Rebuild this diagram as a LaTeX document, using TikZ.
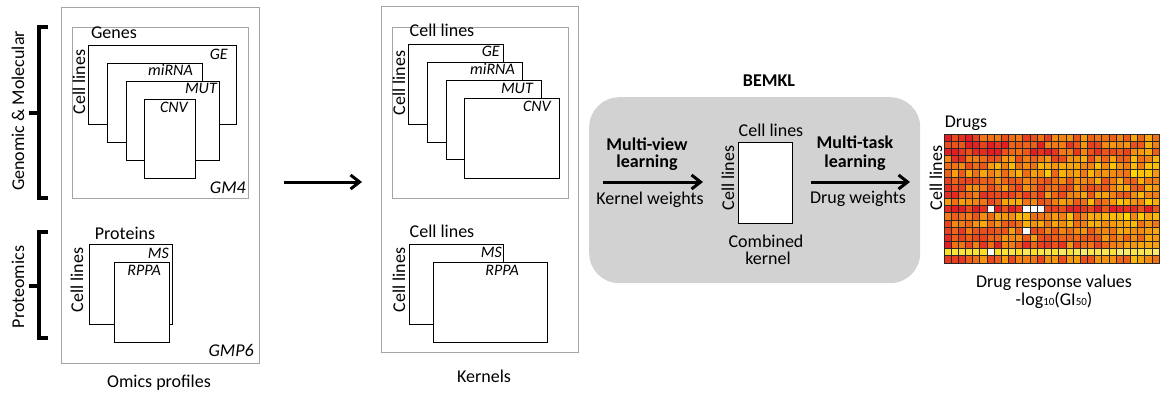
\documentclass[tikz,border=0pt]{standalone}
\usepackage{fontspec}
\setmainfont{Carlito}
\usetikzlibrary{arrows.meta}
\definecolor{panelgray}{RGB}{165,165,165}
\definecolor{bemklgray}{RGB}{210,210,210}
\definecolor{heatred}{RGB}{228,28,36}
\definecolor{heatyel}{RGB}{255,216,0}
\definecolor{heatpale}{RGB}{246,240,140}
\definecolor{gridgray}{RGB}{40,40,40}
\begin{document}
\begin{tikzpicture}[x=1pt,y=-1pt,
  every node/.style={font=\fontsize{18}{20}\selectfont,inner sep=0pt},
  txt/.style={anchor=base},
  bold txt/.style={anchor=base,font=\fontsize{18}{20}\selectfont\bfseries},
  vtxt/.style={rotate=90},
  tag/.style={anchor=base east,font=\fontsize{16}{18}\selectfont\itshape},
  big tag/.style={anchor=base east,font=\fontsize{18}{20}\selectfont\itshape},
  panel/.style={draw=panelgray,line width=1.3pt,anchor=north west},
  sheet/.style={draw,fill=white,line width=0.9pt,anchor=north west},
  brace/.style={line width=3.5pt},
  flow/.style={line width=3pt,-{Straight Barb[length=9pt,width=14pt]}},
  cell/.style={draw=gridgray,line width=0.8pt}]
\useasboundingbox (0,0) rectangle (1160,396);
\coordinate (mid) at (0,182);

% omics profiles
\node[panel,minimum width=198,minimum height=356] (omics) at (61,7) {};
\node[panel,minimum width=176,minimum height=171] (gm4) at (72,27) {};
\node[sheet,minimum width=148,minimum height=79] (ge1) at (88,45) {};
\node[sheet,minimum width=95,minimum height=79] (mirna1) at (107,63) {};
\node[sheet,minimum width=93,minimum height=79] (mut1) at (126,81) {};
\node[sheet,minimum width=51,minimum height=79] (cnv1) at (144,99) {};
\node[sheet,minimum width=83,minimum height=80] (ms1) at (89,244) {};
\node[sheet,minimum width=55,minimum height=80] (rppa1) at (114,262) {};
\node[txt] (genes) at (114,39) {Genes};
\node[tag] (ge1t) at (228,60) {GE};
\node[tag] (mirna1t) at (193,76) {miRNA};
\node[tag] (mut1t) at (217,94) {MUT};
\node[tag] (cnv1t) at (188,112) {CNV};
\node[big tag] (gm4t) at (246,193) {GM4};
\node[vtxt] (cl1) at (79,82) {Cell lines};
\node[txt] (proteins) at (125,239) {Proteins};
\node[tag] (ms1t) at (169,258) {MS};
\node[tag] (rppa1t) at (161,275) {RPPA};
\node[big tag] (gmp6t) at (254,356) {GMP6};
\node[vtxt] (cl2) at (77,280) {Cell lines};
\node[txt] (omicst) at (159,387) {Omics profiles};

\node[vtxt] (genomic) at (18,111) {Genomic \& Molecular};
\node[vtxt] (proteomic) at (18,287) {Proteomics};
\draw[brace] (48,27) -- (39,27) -- (39,198) -- (48,198) (39,113) -- (29,113);
\draw[brace] (48,232) -- (39,232) -- (39,338) -- (48,338) (39,286) -- (29,286);

% kernels
\node[panel,minimum width=197,minimum height=346] (kernels) at (381,6) {};
\node[panel,minimum width=176,minimum height=171] (kgenes) at (392,27) {};
\node[sheet,minimum width=95,minimum height=80] (ge2) at (408,44) {};
\node[sheet,minimum width=95,minimum height=80] (mirna2) at (427,62) {};
\node[sheet,minimum width=95,minimum height=79] (mut2) at (446,80) {};
\node[sheet,minimum width=95,minimum height=80] (cnv2) at (464,98) {};
\node[sheet,minimum width=94,minimum height=80] (ms2) at (409,244) {};
\node[sheet,minimum width=114,minimum height=80] (rppa2) at (433,262) {};
\node[txt] (cl3) at (442,37) {Cell lines};
\node[tag] (ge2t) at (500,57) {GE};
\node[tag] (mirna2t) at (515,75) {miRNA};
\node[tag] (mut2t) at (533,93) {MUT};
\node[tag] (cnv2t) at (551,111) {CNV};
\node[vtxt] (cl4) at (399,83) {Cell lines};
\node[txt] (cl5) at (442,237) {Cell lines};
\node[tag] (ms2t) at (502,257) {MS};
\node[tag] (rppa2t) at (519,275) {RPPA};
\node[vtxt] (cl6) at (399,280) {Cell lines};
\node[txt] (kernelst) at (484,382) {Kernels};

% BEMKL
\node[fill=bemklgray,rounded corners=30pt,minimum width=331,minimum height=186,anchor=north west] (bemkl) at (589,97) {};
\node[bold txt] (bemklt) at (769,87) {BEMKL};
\node[sheet,minimum width=54,minimum height=81] (comb) at (738,142) {};
\node[txt] (cl7) at (771,136) {Cell lines};
\node[vtxt] (cl8) at (728,178) {Cell lines};
\node[txt] (combt) at (766,247) {Combined};
\node[txt] (kernelt) at (768,264) {kernel};
\node[bold txt] (mv1) at (647,150) {Multi-view};
\node[bold txt] (mv2) at (647,167) {learning};
\node[txt] (kw) at (650,204) {Kernel weights};
\node[bold txt] (mt1) at (855,148) {Multi-task};
\node[bold txt] (mt2) at (855,167) {learning};
\node[txt] (dw) at (858,203) {Drug weights};

% drug response
\node[minimum width=216,minimum height=129,anchor=north west] (heat) at (944,134) {};
\node[txt] (drugs) at (966,128) {Drugs};
\node[vtxt] (cl9) at (936,178) {Cell lines};
\node[txt] (drv) at (1054,287) {Drug response values};
\node[txt] (gi) at (1054,305) {-log{\fontsize{11}{12}\selectfont 10}(GI{\fontsize{11}{12}\selectfont 50})};
\begin{scope}
\clip (944,130) rectangle (1160,270);
\pgfmathsetseed{17}
\foreach \b/\s/\hi/\lo [count=\r from 0] in {85/1.6/heatred/heatyel,100/1.9/heatred/heatyel,100/1.8/heatred/heatyel,
    70/1.2/heatred/heatyel,50/0.9/heatred/heatyel,48/0.9/heatred/heatyel,62/0.9/heatred/heatyel,68/1.0/heatred/heatyel,
    72/1.1/heatred/heatyel,58/0.9/heatred/heatyel,100/0.2/heatred/heatyel,48/0.8/heatred/heatyel,55/0.9/heatred/heatyel,
    66/1.1/heatred/heatyel,72/1.1/heatred/heatyel,78/1.1/heatred/heatyel,60/0.8/heatyel/heatpale,66/1.0/heatred/heatyel}
  \foreach \c in {0,...,30}{
    \pgfmathsetmacro\p{int(max(0,min(100,\b-\s*\c+56*rnd-28)))}
    \filldraw[cell,fill=\hi!\p!\lo] (944+7.17*\c,134+7.17*\r) rectangle ++(7.17,7.17);
  }
\foreach \c/\r in {6/10,11/10,12/10,13/10,11/13,6/16}
  \filldraw[cell,fill=white] (944+7.17*\c,134+7.17*\r) rectangle ++(7.17,7.17);
\end{scope}

\draw[flow,shorten <=24pt,shorten >=19pt] (omics.east |- mid) -- (kernels.west |- mid);
\draw[flow,shorten <=14pt,shorten >=35pt] (bemkl.west |- mid) -- (comb.west |- mid);
\draw[flow,shorten <=18pt,shorten >=34pt] (comb.east |- mid) -- (heat.west |- mid);
\end{tikzpicture}
\end{document}
